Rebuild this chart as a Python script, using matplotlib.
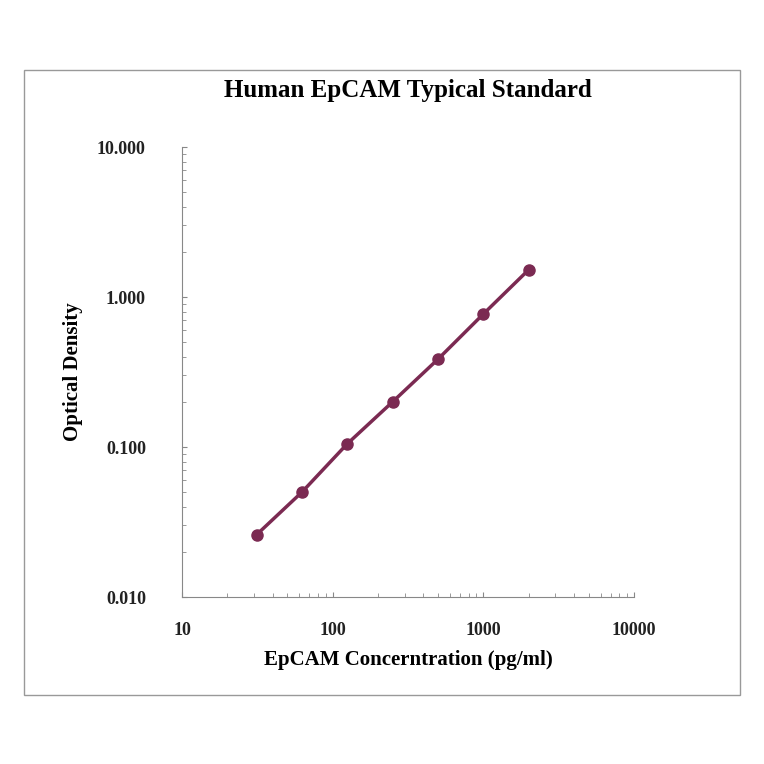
import matplotlib
matplotlib.use("Agg")
import matplotlib.pyplot as plt
from matplotlib.patches import Rectangle

conc = [31.25, 62.5, 125, 250, 500, 1000, 2000]
od = [0.026, 0.050, 0.105, 0.200, 0.385, 0.77, 1.52]
yticks = [0.01, 0.1, 1, 10]
ytick_labels = ["0.010", "0.100", "1.000", "10.000"]
xticks = [10, 100, 1000, 10000]
xtick_labels = ["10", "100", "1000", "10000"]

plt.rcParams['font.family'] = ['Liberation Serif', 'DejaVu Serif']
fig = plt.figure(figsize=(7.64, 7.64), dpi=100)
fig.patches.append(Rectangle((24/764, 1-695/764), 716/764, 625/764, transform=fig.transFigure,
                             fill=False, edgecolor='#999999', lw=1))
ax = fig.add_axes([182/764, 1-597/764, 452/764, 450/764])
ax.set_xscale('log'); ax.set_yscale('log')
ax.set_xlim(10, 10000); ax.set_ylim(0.01, 10)
ax.plot(conc, od, color='#7b2a52', lw=2.5, marker='o', ms=8)
for s in ['top', 'right']:
    ax.spines[s].set_visible(False)
for s in ['left', 'bottom']:
    ax.spines[s].set_color('#888888')
ax.set_xticks(xticks); ax.set_xticklabels(xtick_labels, fontweight='bold')
ax.set_yticks(yticks); ax.set_yticklabels(ytick_labels, fontweight='bold')
ax.tick_params(labelsize=13, colors='#222222', direction='in', pad=18)
ax.tick_params(axis='y', pad=26)
ax.tick_params(which='minor', direction='in', length=3)
ax.tick_params(which='both', color='#888888')
ax.set_title('Human EpCAM Typical Standard', fontsize=18, fontweight='bold', pad=36)
ax.set_xlabel('EpCAM Concerntration (pg/ml)', fontsize=15, fontweight='bold', labelpad=8)
ax.set_ylabel('Optical Density', fontsize=15, fontweight='bold', labelpad=10)
fig.savefig('out.png', dpi=100)
